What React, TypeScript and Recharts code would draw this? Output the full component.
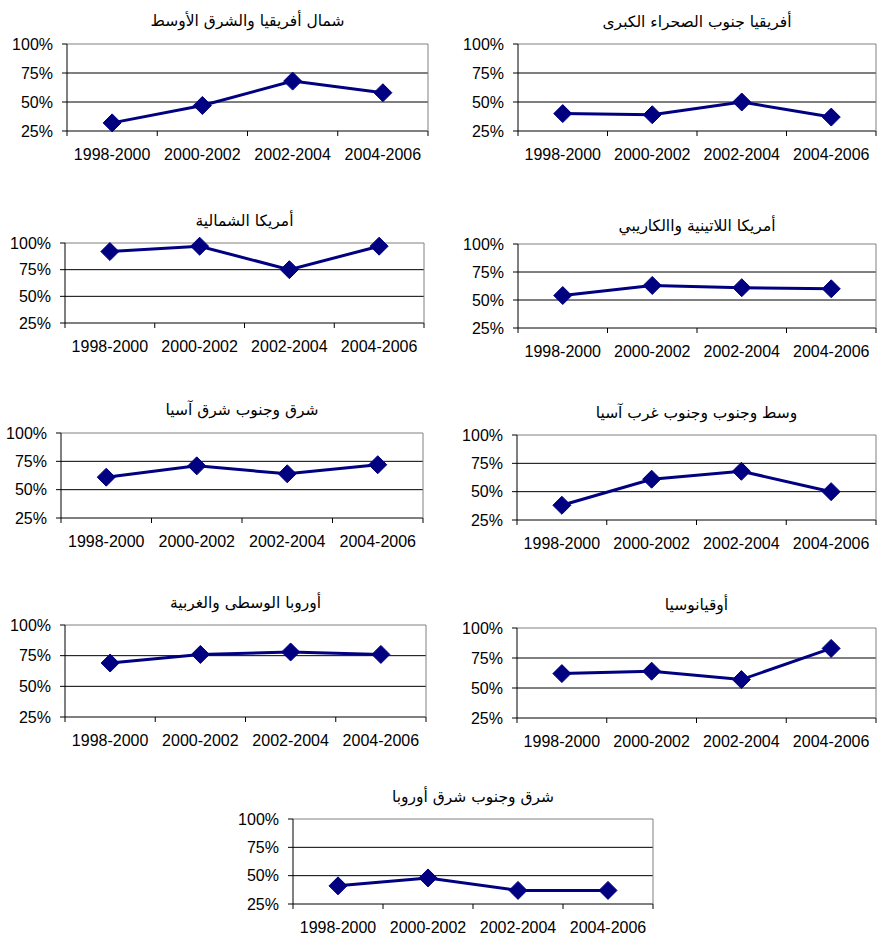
import { LineChart, Line, XAxis, YAxis, ReferenceLine } from "recharts";

const periods = ["1998-2000", "2000-2002", "2002-2004", "2004-2006"];
const percentTicks = [25, 50, 75, 100];

const northAfricaMiddleEast = [32, 47, 68, 58];
const subSaharanAfrica = [40, 39, 50, 37];
const northAmerica = [92, 97, 75, 97];
const latinAmericaCaribbean = [54, 63, 61, 60];
const eastSoutheastAsia = [61, 71, 64, 72];
const centralSouthWestAsia = [38, 61, 68, 50];
const centralWesternEurope = [69, 76, 78, 76];
const oceania = [62, 64, 57, 83];
const eastSoutheastEurope = [41, 48, 37, 37];

const NAVY = "#000080";
const GREY = "#808080";
const LABEL_FONT = "'Liberation Sans', Arial, sans-serif";
const AXIS_W = 60; // space for the percent labels left of each plot
const TOP_PAD = 14;
const X_AXIS_H = 40;

type Panel = {
  title: string;
  values: number[];
  left: number;
  right: number;
  top: number;
  bottom: number;
  titleY: number;
};

const panels: Panel[] = [
  { title: "شمال أفريقيا والشرق الأوسط", values: northAfricaMiddleEast, left: 67, right: 428, top: 44, bottom: 131, titleY: 21 },
  { title: "أفريقيا جنوب الصحراء الكبرى", values: subSaharanAfrica, left: 518, right: 876, top: 44, bottom: 131, titleY: 22 },
  { title: "أمريكا الشمالية", values: northAmerica, left: 65, right: 424, top: 243, bottom: 323, titleY: 221 },
  { title: "أمريكا اللاتينية واالكاريبي", values: latinAmericaCaribbean, left: 518, right: 876, top: 244, bottom: 328, titleY: 226 },
  { title: "شرق وجنوب شرق آسيا", values: eastSoutheastAsia, left: 61, right: 423, top: 433, bottom: 518, titleY: 410 },
  { title: "وسط وجنوب وجنوب غرب آسيا", values: centralSouthWestAsia, left: 517, right: 876, top: 435, bottom: 520, titleY: 413 },
  { title: "أوروبا الوسطى والغربية", values: centralWesternEurope, left: 65, right: 426, top: 625, bottom: 717, titleY: 603 },
  { title: "أوقيانوسيا", values: oceania, left: 517, right: 876, top: 628, bottom: 718, titleY: 605 },
  { title: "شرق وجنوب شرق أوروبا", values: eastSoutheastEurope, left: 293, right: 653, top: 819, bottom: 904, titleY: 797 },
];

function Diamond(props: any) {
  const { cx, cy, index } = props;
  if (cx == null || cy == null) return null;
  const r = 9;
  return (
    <polygon
      key={`dot-${index}`}
      points={`${cx},${cy - r} ${cx + r},${cy} ${cx},${cy + r} ${cx - r},${cy}`}
      fill={NAVY}
      stroke={NAVY}
    />
  );
}

// category label in the middle of its band, tick marks on the band edges
function PeriodTick(props: any) {
  const { x, y, payload, index, bw, count } = props;
  const edge = x - bw / 2;
  return (
    <g>
      <line x1={edge} y1={y} x2={edge} y2={y + 5} stroke="#000" />
      {index === count - 1 && (
        <line x1={x + bw / 2} y1={y} x2={x + bw / 2} y2={y + 5} stroke="#000" />
      )}
      <text x={x} y={y + 29} textAnchor="middle" fontSize={16} fontFamily={LABEL_FONT} fill="#000">
        {payload.value}
      </text>
    </g>
  );
}

function RegionChart({ p }: { p: Panel }) {
  const plotW = p.right - p.left;
  const plotH = p.bottom - p.top;
  const bw = plotW / periods.length;
  const data = periods.map((period, i) => ({ period, value: p.values[i] }));
  return (
    <>
      <div
        style={{
          position: "absolute",
          left: p.left,
          width: plotW,
          top: p.titleY - 11,
          lineHeight: "22px",
          textAlign: "center",
          direction: "rtl",
          fontFamily: "'DejaVu Sans', sans-serif",
          fontSize: 15.5,
          color: "#000",
        }}
      >
        {p.title}
      </div>
      <div style={{ position: "absolute", left: p.left - AXIS_W, top: p.top - TOP_PAD }}>
        <LineChart
          width={AXIS_W + plotW + 1}
          height={TOP_PAD + plotH + X_AXIS_H}
          data={data}
          margin={{ top: TOP_PAD, right: 0, bottom: 0, left: 0 }}
        >
          <XAxis
            dataKey="period"
            scale="band"
            xAxisId="x"
            height={X_AXIS_H}
            stroke="#000"
            interval={0}
            tickLine={false}
            tickSize={0}
            tickMargin={0}
            tick={(t: any) => <PeriodTick {...t} bw={bw} count={periods.length} />}
          />
          <YAxis
            yAxisId="l"
            width={AXIS_W}
            domain={[25, 100]}
            ticks={percentTicks}
            interval={0}
            stroke="#000"
            tickSize={5}
            tickMargin={9}
            tickFormatter={(v: number) => `${v}%`}
            tick={{ fontSize: 16, fontFamily: LABEL_FONT, fill: "#000" }}
          />
          <YAxis
            yAxisId="r"
            orientation="right"
            width={1}
            domain={[25, 100]}
            tick={false}
            tickLine={false}
            stroke={GREY}
          />
          <ReferenceLine xAxisId="x" yAxisId="l" y={100} stroke={GREY} />
          <ReferenceLine xAxisId="x" yAxisId="l" y={75} stroke="#000" />
          <ReferenceLine xAxisId="x" yAxisId="l" y={50} stroke="#000" />
          <Line
            xAxisId="x"
            yAxisId="l"
            dataKey="value"
            type="linear"
            stroke={NAVY}
            strokeWidth={3}
            dot={Diamond}
            activeDot={false}
            isAnimationActive={false}
          />
        </LineChart>
      </div>
    </>
  );
}

export default function App() {
  return (
    <div style={{ position: "absolute", left: 0, top: 0, width: 877, height: 940, background: "#fff" }}>
      {panels.map((p) => (
        <RegionChart key={p.title} p={p} />
      ))}
    </div>
  );
}
